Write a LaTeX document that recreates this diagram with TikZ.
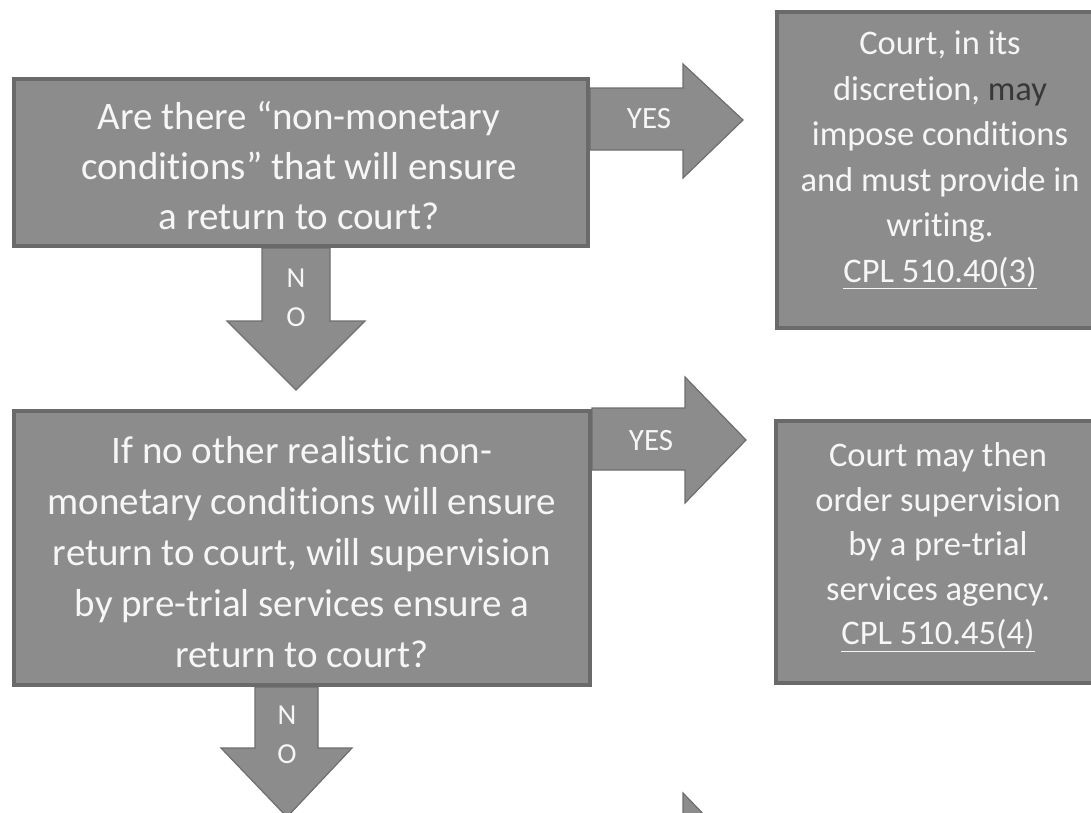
\documentclass[tikz,border=0pt]{standalone}
\usepackage{fontspec}
\setmainfont[Ligatures={NoCommon,NoRare,NoContextual}]{Carlito}
\definecolor{boxfill}{HTML}{8C8C8C}
\definecolor{boxedge}{HTML}{6A6A6A}
\definecolor{arrowedge}{HTML}{6E6E6E}
\definecolor{lighttext}{HTML}{F6F6F6}
\definecolor{darkword}{HTML}{383838}
\pgfdeclarelayer{back}
\pgfsetlayers{back,main}
\begin{document}
\begin{tikzpicture}[x=1pt,y=-1pt,
  panel/.style={draw=boxedge, fill=boxfill, line width=4pt, anchor=north west, inner sep=0pt},
  blockarrow/.style={draw=arrowedge, fill=boxfill, line width=1.2pt, line join=miter},
  paneltext/.style={text=lighttext, align=center, inner sep=0pt},
  arrowtext/.style={text=lighttext, align=center, inner sep=0pt},
]
\useasboundingbox (0,0) rectangle (1091,812);
\clip (0,0) rectangle (1091,812);

% decision and outcome panels
\node[panel, minimum width=574pt, minimum height=167pt] (q1) at (12,77) {};
\node[panel, minimum width=325pt, minimum height=316pt] (r1) at (775,10) {};
\node[panel, minimum width=576pt, minimum height=274pt] (q2) at (12,409) {};
\node[panel, minimum width=326pt, minimum height=262pt] (r2) at (774,419) {};

% block arrows, behind the panels
\begin{pgfonlayer}{back}
  % YES: q1 -> r1
  \draw[blockarrow] (q1.east |- 0,88) -- (683,88) -- (683,64) -- (743,120)
    -- (683,178) -- (683,150) -- (q1.east |- 0,150) -- cycle;
  % NO: q1 -> q2
  \draw[blockarrow] (262,0 |- q1.south) -- (262,321) -- (227,321) -- (296,390)
    -- (365,321) -- (330,321) -- (330,0 |- q1.south) -- cycle;
  % YES: q2 -> r2
  \draw[blockarrow] (q2.east |- 0,408) -- (685,408) -- (685,377) -- (746,440)
    -- (685,503) -- (685,470) -- (q2.east |- 0,470) -- cycle;
  % NO: q2 -> next step
  \draw[blockarrow] (255,0 |- q2.south) -- (255,748) -- (221,748) -- (287,817)
    -- (352,748) -- (318,748) -- (318,0 |- q2.south) -- cycle;
  % YES arrow of the next step
  \draw[blockarrow] (q2.east |- 0,824) -- (683,824) -- (683,793) -- (744,856)
    -- (683,919) -- (683,886) -- (q2.east |- 0,886) -- cycle;
\end{pgfonlayer}

% panel texts
\node[paneltext, font=\fontsize{39}{50}\selectfont] (t1) at (299,166)
  {Are there “non-monetary\\conditions” that will ensure\\a return to court?};
\node[paneltext, font=\fontsize{34.5}{45.5}\selectfont] (t2) at (940,160)
  {Court, in its\\discretion, \textcolor{darkword}{may}\\impose conditions\\and must provide in\\writing.\\\underline{CPL 510.40(3)}};
\node[paneltext, font=\fontsize{39}{51}\selectfont] (t3) at (302,552)
  {If no other realistic non-\\monetary conditions will ensure\\return to court, will supervision\\by pre-trial services ensure a\\return to court?};
\node[paneltext, font=\fontsize{34.5}{44.5}\selectfont] (t4) at (938,547)
  {Court may then\\order supervision\\by a pre-trial\\services agency.\\\underline{CPL 510.45(4)}};

% arrow labels
\node[arrowtext, font=\fontsize{31}{31}\selectfont] (y1) at (649,119) {YES};
\node[arrowtext, font=\fontsize{31}{31}\selectfont] (y2) at (651,441) {YES};
\node[arrowtext, font=\fontsize{29}{39}\selectfont] (n1) at (296,298) {N\\O};
\node[arrowtext, font=\fontsize{29}{39}\selectfont] (n2) at (287,735) {N\\O};
\end{tikzpicture}
\end{document}
